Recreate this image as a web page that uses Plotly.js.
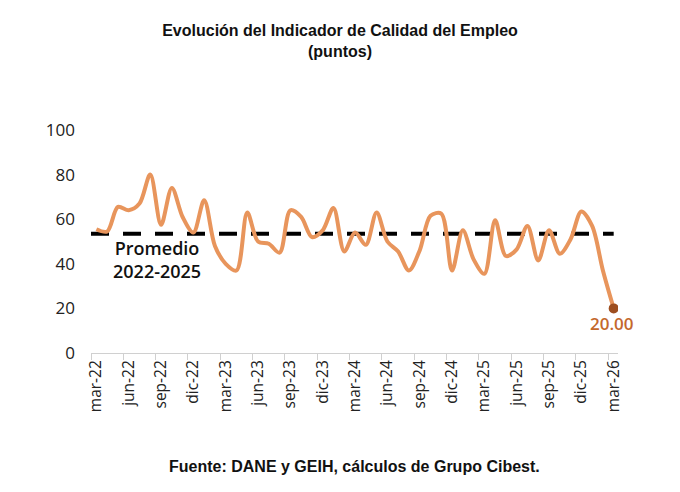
<!DOCTYPE html>
<html>
<head>
<meta charset="utf-8">
<script src="https://cdn.plot.ly/plotly-3.0.1.min.js"></script>
<style>
  html, body { margin: 0; padding: 0; background: #fff; }
  #chart { width: 680px; height: 492px; }
</style>
</head>
<body>
<div id="chart"></div>
<script>
// meses mar-22 .. mar-26
var meses = ['mar-22','abr-22','may-22','jun-22','jul-22','ago-22','sep-22','oct-22','nov-22','dic-22',
  'ene-23','feb-23','mar-23','abr-23','may-23','jun-23','jul-23','ago-23','sep-23','oct-23','nov-23','dic-23',
  'ene-24','feb-24','mar-24','abr-24','may-24','jun-24','jul-24','ago-24','sep-24','oct-24','nov-24','dic-24',
  'ene-25','feb-25','mar-25','abr-25','may-25','jun-25','jul-25','ago-25','sep-25','oct-25','nov-25','dic-25',
  'ene-26','feb-26','mar-26'];

// valores (puntos)
var ice = [55.5, 54.5, 65.5, 64, 67, 80, 57.5, 74, 61, 54,
  68.5, 48, 40, 37, 63, 50, 49, 45, 64, 61, 52, 55,
  65, 45.5, 54, 48.5, 63, 50, 45.5, 37, 46, 61.5, 62.5, 37,
  55, 42, 35.5, 59.5, 43.5, 46.5, 57, 41.5, 55, 44.5, 51, 63.5,
  57, 37, 20];

var promedio = 53.5;

var tickMeses = meses.filter(function (m, i) { return i % 3 === 0; });

var serie = {
  x: meses,
  y: ice,
  type: 'scatter',
  mode: 'lines',
  line: { color: '#E8955C', width: 4, shape: 'spline', smoothing: 0.9 },
  hoverinfo: 'x+y',
  showlegend: false
};

var ultimo = {
  x: [meses[meses.length - 1]],
  y: [ice[ice.length - 1]],
  type: 'scatter',
  mode: 'markers',
  marker: { color: '#9E4E1F', size: 10 },
  showlegend: false
};

var layout = {
  width: 680,
  height: 492,
  paper_bgcolor: '#fff',
  plot_bgcolor: '#fff',
  margin: { l: 91, r: 62, t: 130, b: 139 },
  title: {
    text: 'Evolución del Indicador de Calidad del Empleo<br>(puntos)',
    font: { family: 'Liberation Sans, Arial, sans-serif', size: 16, color: '#111', weight: 'bold' },
    x: 0.5,
    xanchor: 'center',
    y: 0.926,
    yanchor: 'top'
  },
  xaxis: {
    type: 'category',
    range: [-0.5, 48.4],
    tickson: 'boundaries',
    tickmode: 'array',
    tickvals: tickMeses,
    ticktext: tickMeses,
    tickangle: -90,
    ticks: 'outside',
    ticklen: 6,
    tickcolor: '#d0d0d0',
    showline: true,
    linecolor: '#d0d0d0',
    linewidth: 1,
    showgrid: false,
    zeroline: false,
    tickfont: { family: 'Open Sans, sans-serif', size: 15.5, color: '#222' }
  },
  yaxis: {
    range: [0, 100],
    dtick: 20,
    showgrid: false,
    zeroline: false,
    showline: false,
    ticks: '',
    ticklabelstandoff: 15,
    tickfont: { family: 'Open Sans, sans-serif', size: 17, color: '#222' }
  },
  shapes: [{
    type: 'line',
    xref: 'x',
    yref: 'y',
    x0: -0.5,
    x1: meses.length - 1,
    y0: promedio,
    y1: promedio,
    line: { color: '#000', width: 4, dash: '18px,14px' },
    layer: 'below'
  }],
  annotations: [{
    x: 5.6,
    y: 42,
    xref: 'x',
    yref: 'y',
    text: 'Promedio<br>2022-2025',
    showarrow: false,
    font: { family: 'Open Sans, sans-serif', size: 18, color: '#111', weight: 600 }
  }, {
    x: meses[meses.length - 1],
    y: ice[ice.length - 1],
    xref: 'x',
    yref: 'y',
    text: ice[ice.length - 1].toFixed(2),
    showarrow: false,
    yshift: -15,
    xshift: -2,
    font: { family: 'Open Sans, sans-serif', size: 17, color: '#C4682C', weight: 600 }
  }, {
    x: 0.5,
    y: 0,
    xref: 'paper',
    yref: 'paper',
    yanchor: 'middle',
    text: 'Fuente: DANE y GEIH, cálculos de Grupo Cibest.',
    showarrow: false,
    font: { family: 'Liberation Sans, Arial, sans-serif', size: 16, color: '#111', weight: 'bold' }
  }]
};

// pie de pagina en coordenadas de papel (centro en y = 466 px)
layout.annotations[2].y = (492 - 466 - layout.margin.b) / (492 - layout.margin.t - layout.margin.b);

Plotly.newPlot('chart', [serie, ultimo], layout, { displayModeBar: false, staticPlot: true });
</script>
</body>
</html>
